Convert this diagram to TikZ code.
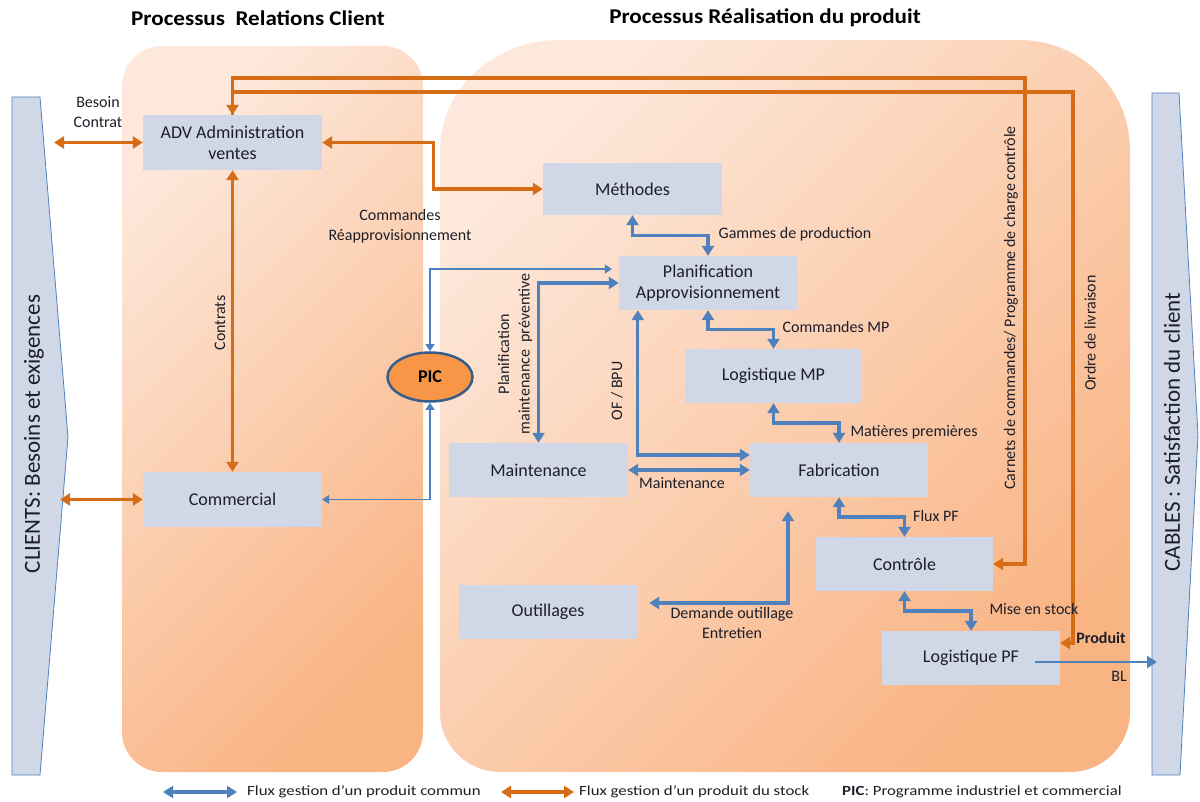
\documentclass[tikz,border=0pt]{standalone}
\usepackage{fontspec}
\setmainfont{Carlito}
\newfontfamily\titlefont[FakeStretch=1.1]{Carlito}
\newfontfamily\legfont[FakeStretch=1.2]{Carlito}
\usetikzlibrary{arrows.meta,shapes.geometric,calc}
\definecolor{boxfill}{RGB}{208,216,232}
\definecolor{bflow}{RGB}{79,129,189}
\definecolor{oflow}{RGB}{214,108,22}
\definecolor{bgA}{RGB}{253,232,219}
\definecolor{bgB}{RGB}{249,180,132}
\definecolor{txt}{RGB}{30,30,40}
\definecolor{picfill}{RGB}{247,150,70}
\definecolor{picborder}{RGB}{56,93,138}
\begin{document}
\begin{tikzpicture}[x=1pt,y=-1pt,
  box/.style={fill=boxfill,minimum width=178pt,minimum height=54pt,inner sep=2pt,align=center,text=txt,font=\fontsize{18}{21}\selectfont},
  lbl/.style={text=txt,font=\fontsize{16}{20.5}\selectfont,align=center,inner sep=0pt},
  bigtip/.tip={Triangle[length=10pt,width=12pt]},
  smalltip/.tip={Triangle[length=7pt,width=9pt]},
  bdbl/.style={draw=bflow,line width=3.2pt,bigtip-bigtip},
  odbl/.style={draw=oflow,line width=3.2pt,bigtip-bigtip},
  oarr/.style={draw=oflow,line width=3.2pt,-bigtip},
  tdbl/.style={draw=bflow,line width=1.2pt,smalltip-smalltip},
  barr/.style={draw=bflow,line width=2.6pt,-bigtip},
  chev/.style={draw=bflow,fill=boxfill,line width=0.8pt},
  bgshape/.style={top color=bgA,bottom color=bgB,shading angle=45},
  ttl/.style={font=\titlefont\bfseries\fontsize{21}{24}\selectfont,text=black},
  leg/.style={font=\legfont\fontsize{14}{16}\selectfont,text=txt,anchor=west,inner sep=0pt}
]
\useasboundingbox (0,0) rectangle (1200,802);

% background process areas
\shade[bgshape] (122,732) -- (122,86) arc[start angle=180,end angle=270,radius=40] -- (383,46) arc[start angle=270,end angle=360,radius=40] -- (423,732) arc[start angle=0,end angle=90,radius=40] -- (162,772) arc[start angle=90,end angle=180,radius=40] -- cycle;
\shade[bgshape] (440,712) -- (440,150) arc[start angle=180,end angle=270,x radius=120,y radius=110] -- (1020,40) arc[start angle=270,end angle=360,radius=110] -- (1130,712) arc[start angle=0,end angle=90,radius=60] -- (500,772) arc[start angle=90,end angle=180,radius=60] -- cycle;

% titles
\node[ttl] (t1) at (258,18) {Processus\ \ Relations Client};
\node[ttl] (t2) at (765,18) {Processus Réalisation du produit};

% chevrons
\draw[chev] (12,97) -- (40,97) -- (68,437) -- (40,775) -- (12,775) -- cycle;
\draw[chev] (1152,93) -- (1179,93) -- (1198,435) -- (1180,775) -- (1152,775) -- cycle;
\node[rotate=90,text=txt,font=\fontsize{23}{26}\selectfont] (clients) at (34,434) {CLIENTS: Besoins et exigences};
\node[rotate=90,text=txt,font=\fontsize{23}{26}\selectfont] (cables) at (1172,432) {CABLES : Satisfaction du client};

% boxes
\node[box,minimum width=179pt,minimum height=55pt] (adv) at (232.5,142.5) {ADV Administration\\ventes};
\node[box,minimum width=179pt,minimum height=55pt] (comm) at (232.5,499.5) {Commercial};
\node[box,minimum width=179pt,minimum height=52pt] (meth) at (632.5,189) {Méthodes};
\node[box] (plan) at (708,283) {Planification\\Approvisionnement};
\node[box,minimum width=177pt] (lmp) at (773.5,376) {Logistique MP};
\node[box,minimum width=179pt] (maint) at (538.5,470) {Maintenance};
\node[box] (fab) at (839,470) {Fabrication};
\node[box,minimum width=177pt] (ctrl) at (904.5,564) {Contrôle};
\node[box] (outil) at (548,612) {Outillages};
\node[box] (lpf) at (971,658) {Logistique PF};
\node[ellipse,draw=picborder,line width=2.5pt,fill=picfill,minimum width=85pt,minimum height=49pt,inner sep=0pt,font=\bfseries\fontsize{18}{21}\selectfont,text=black] (pic) at (430,377) {PIC};

% free ends
\coordinate (clA) at (54,142.5);
\coordinate (clB) at (60,499.5);
\coordinate (c1) at (1025,78);
\coordinate (c2) at (1073,92);
\coordinate (blEnd) at (1157,662);

% orange flows
\draw[odbl] (clA) -- (adv.west);
\draw[odbl] (clB) -- (comm.west);
\draw[odbl] (adv.south) -- (comm.north);
\draw[odbl] (adv.east) -- ++(111,0) |- (meth.west);
\draw[odbl] (adv.north) |- (c1) |- (ctrl.east);
\draw[oarr] (adv.north) |- (c2) |- ([yshift=15pt]lpf.east);

% blue flows
\draw[bdbl] (meth.south) |- ($(meth.south)!.5!(plan.north)$) -| (plan.north);
\draw[bdbl] (plan.south) |- ($(plan.south)!.5!(lmp.north)$) -| (lmp.north);
\draw[bdbl] (lmp.south) |- ($(lmp.south)!.5!(fab.north)$) -| (fab.north);
\draw[bdbl] (fab.south) |- ($(fab.south)!.5!(ctrl.north)$) -| (ctrl.north);
\draw[bdbl] (ctrl.south) |- ($(ctrl.south)!.5!(lpf.north)$) -| (lpf.north);
\draw[bdbl] (maint.east) -- (fab.west);
\draw[bdbl] (plan.west) -| (maint.north);
\draw[bdbl] ([xshift=19pt]plan.south west) |- ([yshift=15pt]fab.west);
\draw[bdbl,shorten <=12pt,shorten >=14pt] ([yshift=9pt]outil.east) -| ([xshift=-51pt]fab.south);
\draw[tdbl,shorten <=7pt] ([yshift=14pt]plan.west) -| (pic.north);
\draw[tdbl] (pic.south) |- (comm.east);
\draw[barr] ([xshift=64pt,yshift=-4pt]lpf.center) -- (blEnd);

% labels
\node[lbl] (lBesoin) at (98,112) {Besoin\\Contrat};
\node[lbl,rotate=90] (lContrats) at (220,323) {Contrats};
\node[lbl] (lCmd) at (400,226) {Commandes\\Réapprovisionnement};
\node[lbl] (lGammes) at (795,234) {Gammes de production};
\node[lbl] (lCmdMP) at (836,327) {Commandes MP};
\node[lbl,rotate=90] (lPlanMaint) at (515,354) {Planification\\maintenance\ \ préventive};
\node[lbl,rotate=90] (lOF) at (617,391) {OF / BPU};
\node[lbl] (lMat) at (914,432) {Matières premières};
\node[lbl] (lMaint) at (682,483) {Maintenance};
\node[lbl] (lFlux) at (936,516) {Flux PF};
\node[lbl] (lMise) at (1034,609) {Mise en stock};
\node[lbl] (lDem) at (732,623) {Demande outillage\\Entretien};
\node[lbl,font=\bfseries\fontsize{16}{20}\selectfont] (lProd) at (1101,638) {Produit};
\node[lbl] (lBL) at (1119,676) {BL};
\node[lbl,rotate=90] (lCarnets) at (1011,308) {Carnets de commandes/ Programme de charge contrôle};
\node[lbl,rotate=90] (lOrdre) at (1090,333) {Ordre de livraison};

% legend
\coordinate (lgA1) at (163,792);
\coordinate (lgA2) at (237,792);
\coordinate (lgB1) at (501,792);
\coordinate (lgB2) at (574,792);
\draw[bdbl] (lgA1) -- (lgA2);
\draw[odbl] (lgB1) -- (lgB2);
\node[leg] (leg1) at (247,792) {Flux gestion d’un produit commun};
\node[leg] (leg2) at (579,792) {Flux gestion d’un produit du stock};
\node[leg] (leg3) at (842,792) {\textbf{PIC}: Programme industriel et commercial};
\end{tikzpicture}
\end{document}
